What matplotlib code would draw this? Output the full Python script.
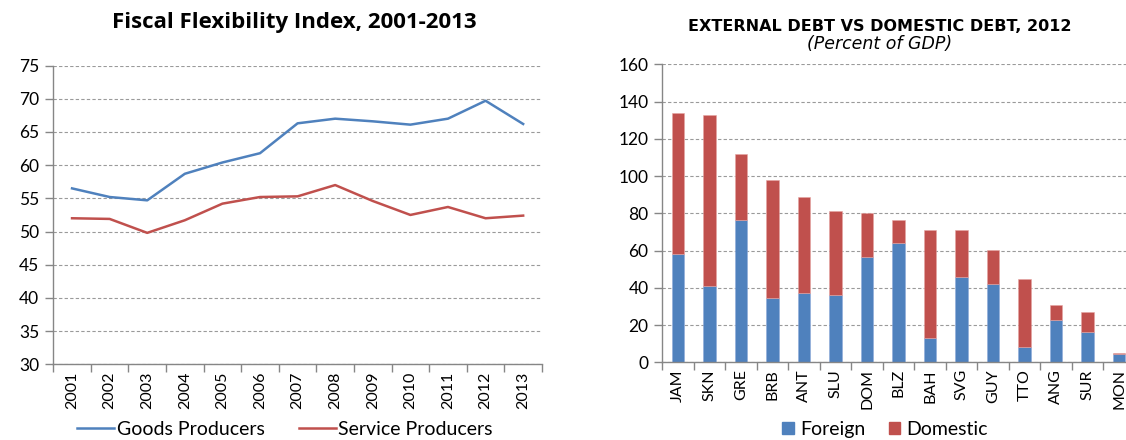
import matplotlib
matplotlib.use("Agg")
import matplotlib.pyplot as plt
from matplotlib.lines import Line2D
from matplotlib.patches import Patch
import numpy as np

plt.rcParams['font.family'] = ['Lato', 'DejaVu Sans']

years = ["2001", "2002", "2003", "2004", "2005", "2006", "2007",
         "2008", "2009", "2010", "2011", "2012", "2013"]
goods = [56.5, 55.2, 54.7, 58.7, 60.4, 61.8, 66.3, 67.0, 66.6, 66.1, 67.0, 69.7, 66.2]
service = [52.0, 51.9, 49.8, 51.7, 54.2, 55.2, 55.3, 57.0, 54.6, 52.5, 53.7, 52.0, 52.4]

countries = ["JAM", "SKN", "GRE", "BRB", "ANT", "SLU", "DOM", "BLZ",
             "BAH", "SVG", "GUY", "TTO", "ANG", "SUR", "MON"]
total_debt = [133.7, 132.6, 111.7, 97.7, 88.9, 81.4, 80.3, 76.2,
              71.0, 71.0, 60.3, 44.9, 30.9, 26.8, 4.8]
foreign = [58.1, 41.0, 76.4, 34.4, 37.2, 36.1, 56.4, 63.9,
           12.9, 46.0, 42.0, 8.0, 22.7, 16.4, 4.3]
domestic = [t - f for t, f in zip(total_debt, foreign)]

BLUE = "#4F81BD"
RED = "#C0504D"
GRID = "#9A9A9A"
SPINE = "#868686"

fig = plt.figure(figsize=(11.26, 4.40), dpi=100)

def style_axes(ax, n):
    for s in ["top", "right"]:
        ax.spines[s].set_visible(False)
    for s in ["left", "bottom"]:
        ax.spines[s].set_color(SPINE)
        ax.spines[s].set_linewidth(1.0)
    ax.yaxis.grid(True, linestyle=(0, (3, 2)), color=GRID, linewidth=0.8)
    ax.set_axisbelow(True)
    ax.set_xlim(0, n)
    ax.set_xticks(np.arange(0, n + 1))
    ax.set_xticklabels([])
    ax.tick_params(axis="x", which="major", length=6, color=SPINE, width=1.0)
    ax.tick_params(axis="x", which="minor", length=0, labelsize=11.5, pad=5,
                   labelrotation=90)
    ax.tick_params(axis="y", length=6, color=SPINE, width=1.0, labelsize=12.5,
                   pad=4)

# Left chart
ax1 = fig.add_axes([0.0473, 0.172, 0.434, 0.679])
x1 = np.arange(len(years)) + 0.5
ax1.plot(x1, goods, color=BLUE, lw=1.8)
ax1.plot(x1, service, color=RED, lw=1.8)
style_axes(ax1, len(years))
ax1.set_ylim(30, 75)
ax1.set_yticks(np.arange(30, 76, 5))
ax1.set_xticks(x1, minor=True)
ax1.set_xticklabels(years, minor=True)
fig.text(0.261, 0.948, "Fiscal Flexibility Index, 2001-2013", ha="center",
         va="center", fontsize=16, fontweight="bold",
         family=["Open Sans", "DejaVu Sans"])
fig.legend(handles=[Line2D([], [], color=BLUE, lw=1.8, label="Goods Producers"),
                    Line2D([], [], color=RED, lw=1.8, label="Service Producers")],
           loc="center", bbox_to_anchor=(0.253, 0.024), ncol=2, frameon=False,
           fontsize=14, handlelength=1.9, handletextpad=0.15, columnspacing=1.75,
           borderpad=0.0)

# Right chart
ax2 = fig.add_axes([0.5882, 0.1766, 0.4196, 0.6773])
x2 = np.arange(len(countries)) + 0.5
ax2.bar(x2, foreign, width=0.4, color=BLUE, edgecolor="#8EAADB", linewidth=0.4)
ax2.bar(x2, domestic, width=0.4, bottom=foreign, color=RED, edgecolor="#E6A5A3",
        linewidth=0.4)
style_axes(ax2, len(countries))
ax2.set_ylim(0, 160)
ax2.set_yticks(np.arange(0, 161, 20))
ax2.set_xticks(x2, minor=True)
ax2.set_xticklabels(countries, minor=True)
fig.text(0.7815, 0.940, "EXTERNAL DEBT VS DOMESTIC DEBT, 2012", ha="center",
         va="center", fontsize=11.5, fontweight="bold",
         family=["DejaVu Sans"])
fig.text(0.7815, 0.901, "(Percent of GDP)", ha="center", va="center",
         fontsize=12.5, fontstyle="italic", family=["DejaVu Sans"])
fig.legend(handles=[Patch(color=BLUE, label="Foreign"),
                    Patch(color=RED, label="Domestic")],
           loc="center", bbox_to_anchor=(0.786, 0.024), ncol=2, frameon=False,
           fontsize=14, handlelength=0.6, handleheight=0.6, handletextpad=0.3,
           columnspacing=1.2, borderpad=0.0)

fig.savefig("out.png", dpi=100)
